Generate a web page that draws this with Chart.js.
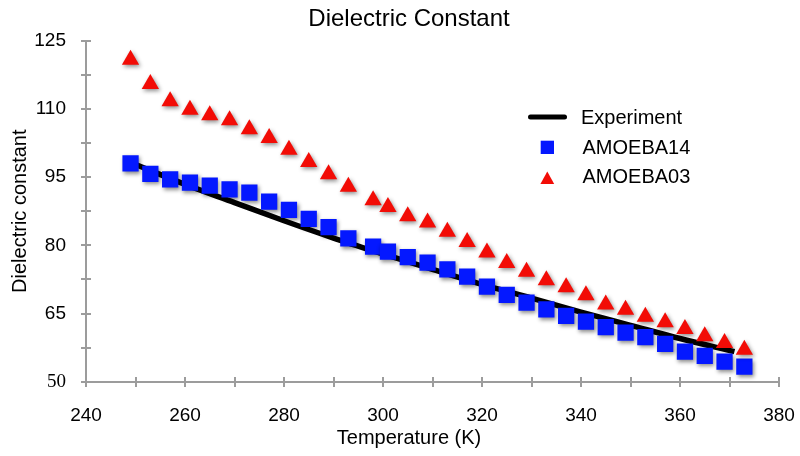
<!DOCTYPE html>
<html>
<head>
<meta charset="utf-8">
<script src="https://cdn.jsdelivr.net/npm/chart.js@4.4.1/dist/chart.umd.min.js"></script>
<style>
  html, body { margin: 0; padding: 0; background: #fff; overflow: hidden; }
  #wrap { width: 800px; height: 456px; position: relative; }
</style>
</head>
<body>
<div id="wrap"><canvas id="c"></canvas></div>
<script>
// ---- data ----
const temperatures = [249, 253, 257, 261, 265, 269, 273, 277, 281, 285, 289, 293, 298, 301, 305, 309,
                      313, 317, 321, 325, 329, 333, 337, 341, 345, 349, 353, 357, 361, 365, 369, 373];
const amoeba14 = [98.0, 95.7, 94.5, 93.8, 93.1, 92.3, 91.6, 89.6, 87.8, 85.8, 84.0, 81.5, 79.7, 78.6, 77.4, 76.2,
                  74.7, 73.1, 70.9, 69.1, 67.4, 65.9, 64.5, 63.2, 62.0, 60.8, 59.8, 58.3, 56.6, 55.7, 54.4, 53.3];
const amoeba03 = [120.8, 115.5, 111.7, 109.8, 108.6, 107.5, 105.5, 103.6, 101.0, 98.3, 95.6, 92.9, 89.9, 88.4, 86.4, 85.0,
                  83.0, 80.7, 78.4, 76.1, 74.2, 72.3, 70.8, 69.0, 67.0, 65.8, 64.3, 63.1, 61.6, 60.0, 58.5, 57.0];
const expTemperatures = [249, 260, 270, 280, 290, 300, 310, 320, 330, 340, 350, 360, 371];
const experiment = [98.2, 93.4, 89.4, 85.4, 81.6, 78.1, 74.7, 71.4, 68.4, 65.3, 62.4, 59.5, 56.6];
const seriesNames = ['Experiment', 'AMOEBA14', 'AMOEBA03'];
const xTickMin = 240, xTickMax = 380, xLabelStep = 20, xMinorStep = 10;
const yTickMin = 50, yTickMax = 125, yLabelStep = 15, yMinorStep = 7.5;
const chartTitle = 'Dielectric Constant';
const xTitle = 'Temperature (K)';
const yTitle = 'Dielectric constant';

const SANS = '"Liberation Sans", Arial, Helvetica, sans-serif';
const SERIF = '"Liberation Serif", "Times New Roman", serif';
const BLUE = '#0418ff';
const RED = '#f20c06';
const AXIS = '#9c9c9c';

const toXY = (xs, ys) => xs.map((x, i) => ({ x: x, y: ys[i] }));

const axisTicks = {
  id: 'axisTicks',
  beforeDatasetsDraw(chart) {
    const { ctx } = chart;
    const x = chart.scales.x, y = chart.scales.y;
    ctx.save();
    ctx.strokeStyle = AXIS;
    ctx.lineWidth = 2;
    ctx.beginPath();
    x.ticks.forEach(t => {
      const px = Math.round(x.getPixelForValue(t.value));
      const py = Math.round(x.top);
      ctx.moveTo(px, py - 5); ctx.lineTo(px, py + 5);
    });
    y.ticks.forEach(t => {
      const py = Math.round(y.getPixelForValue(t.value));
      const px = Math.round(y.right);
      ctx.moveTo(px - 5, py); ctx.lineTo(px + 5, py);
    });
    ctx.stroke();
    ctx.restore();
  }
};

const markerShadow = {
  id: 'markerShadow',
  beforeDatasetDraw(chart, args) {
    if (args.index === 0) return;
    const ctx = chart.ctx;
    ctx.save();
    ctx.shadowColor = 'rgba(0,0,0,0.45)';
    ctx.shadowBlur = 4;
    ctx.shadowOffsetX = 1.5;
    ctx.shadowOffsetY = 2;
  },
  afterDatasetDraw(chart, args) {
    if (args.index === 0) return;
    chart.ctx.restore();
  }
};

const customLegend = {
  id: 'customLegend',
  afterDraw(chart) {
    const ctx = chart.ctx;
    const ds = chart.data.datasets;
    ctx.save();
    ctx.font = '20px ' + SANS;
    ctx.textBaseline = 'middle';
    ctx.textAlign = 'left';
    ctx.fillStyle = '#000';
    // Experiment line
    ctx.strokeStyle = ds[0].borderColor;
    ctx.lineWidth = 5;
    ctx.lineCap = 'round';
    ctx.beginPath();
    ctx.moveTo(530.5, 117); ctx.lineTo(564.5, 117);
    ctx.stroke();
    ctx.fillText(ds[0].label, 581, 118);
    // AMOEBA14 square
    ctx.fillStyle = ds[1].backgroundColor;
    ctx.fillRect(540.7, 140.7, 13.3, 13.3);
    ctx.fillStyle = '#000';
    ctx.fillText(ds[1].label, 582.5, 148);
    // AMOEBA03 triangle
    ctx.fillStyle = ds[2].backgroundColor;
    ctx.beginPath();
    ctx.moveTo(547.3, 171.5); ctx.lineTo(554.2, 184); ctx.lineTo(540.4, 184); ctx.closePath();
    ctx.fill();
    ctx.fillStyle = '#000';
    ctx.fillText(ds[2].label, 582.5, 177);
    ctx.restore();
  }
};

new Chart(document.getElementById('c'), {
  type: 'scatter',
  data: {
    datasets: [
      {
        label: seriesNames[0],
        data: toXY(expTemperatures, experiment),
        showLine: true,
        borderColor: '#000',
        backgroundColor: '#000',
        borderWidth: 5.5,
        pointRadius: 0,
        cubicInterpolationMode: 'monotone',
        order: 3
      },
      {
        label: seriesNames[1],
        data: toXY(temperatures, amoeba14),
        pointStyle: 'rect',
        pointRadius: 11.5,
        backgroundColor: BLUE,
        borderColor: BLUE,
        borderWidth: 0,
        order: 2
      },
      {
        label: seriesNames[2],
        data: toXY(temperatures, amoeba03),
        pointStyle: 'triangle',
        pointRadius: 10,
        backgroundColor: RED,
        borderColor: RED,
        borderWidth: 0,
        order: 1
      }
    ]
  },
  options: {
    responsive: true,
    maintainAspectRatio: false,
    animation: false,
    devicePixelRatio: 1,
    layout: { padding: { left: 18, right: 0, top: 0, bottom: 0 } },
    plugins: {
      legend: { display: false },
      tooltip: { enabled: false },
      title: {
        display: true,
        text: chartTitle,
        color: '#000',
        font: { family: SANS, size: 24, weight: 'normal' },
        padding: { top: 4.6, bottom: 7.3 }
      },
      subtitle: {
        display: true,
        position: 'bottom',
        text: xTitle,
        color: '#000',
        font: { family: SANS, size: 20, weight: 'normal' },
        padding: { top: 0, bottom: 6 }
      }
    },
    scales: {
      x: {
        type: 'linear',
        min: xTickMin,
        max: xTickMax,
        grid: { display: false },
        border: { display: true, color: AXIS, width: 2 },
        ticks: {
          stepSize: xMinorStep,
          autoSkip: false,
          maxRotation: 0,
          padding: 15,
          color: '#000',
          font: { family: SANS, size: 19 },
          callback: v => ((v - xTickMin) % xLabelStep === 0 ? String(v) : '')
        },
        afterFit: s => { s.height = 44.3; s.paddingRight = 21; s.paddingLeft = 0; }
      },
      y: {
        type: 'linear',
        min: yTickMin,
        max: yTickMax,
        grid: { display: false },
        border: { display: true, color: AXIS, width: 2 },
        title: {
          display: true,
          text: yTitle,
          color: '#000',
          font: { family: SANS, size: 20, weight: 'normal' },
          padding: { top: -10, bottom: 0 }
        },
        ticks: {
          stepSize: yMinorStep,
          autoSkip: false,
          padding: 12,
          color: '#000',
          font: ctx => (ctx.tick && ctx.tick.value === yTickMin)
            ? { family: SERIF, size: 19 }
            : { family: SANS, size: 19 },
          callback: v => ((v - yTickMin) % yLabelStep === 0 ? String(v) : '')
        },
        afterFit: s => { s.width = 68; }
      }
    }
  },
  plugins: [axisTicks, markerShadow, customLegend]
});
</script>
</body>
</html>
